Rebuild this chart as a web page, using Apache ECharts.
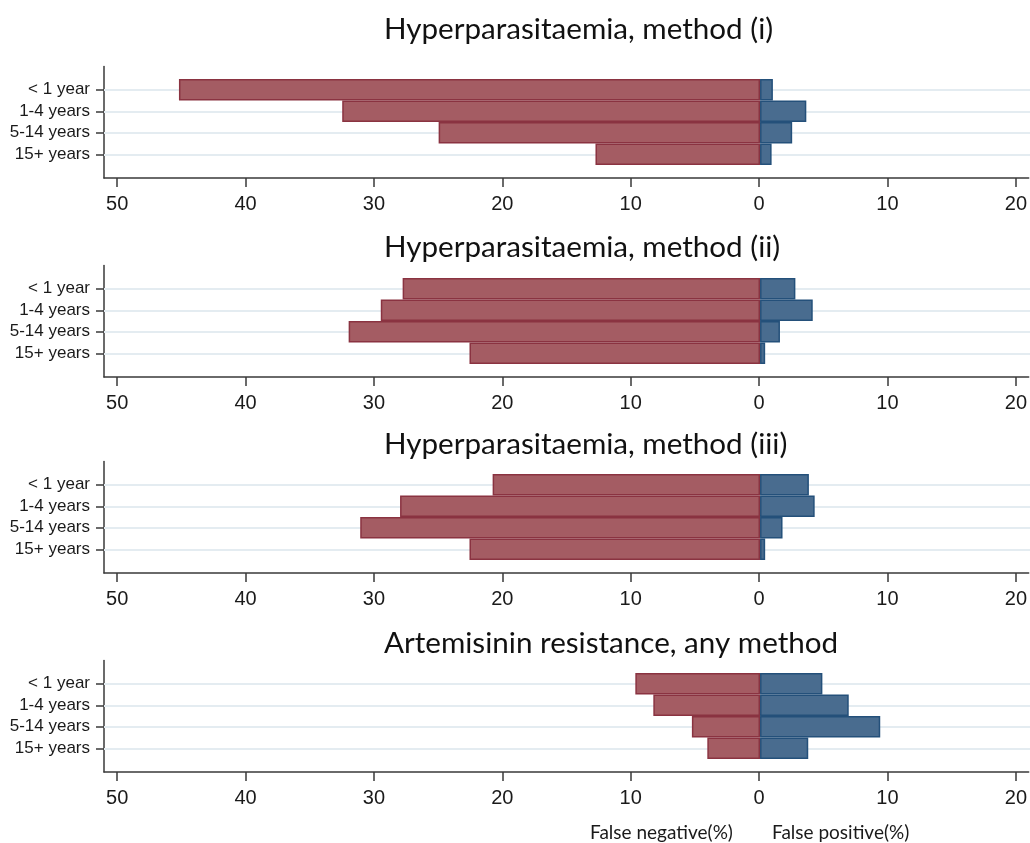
<!DOCTYPE html>
<html>
<head>
<meta charset="utf-8">
<script src="https://cdn.jsdelivr.net/npm/echarts@6/dist/echarts.min.js"></script>
<style>
html,body{margin:0;padding:0;background:#fff;}
#chart{width:1030px;height:843px;}
</style>
</head>
<body>
<div id="chart"></div>
<script>
// ---- data ----
const categories = ['< 1 year', '1-4 years', '5-14 years', '15+ years'];
const panelTitles = [
  'Hyperparasitaemia, method (i)',
  'Hyperparasitaemia, method (ii)',
  'Hyperparasitaemia, method (iii)',
  'Artemisinin resistance, any method'
];
const falseNeg1 = [45.2, 32.5, 25.0, 12.8];
const falsePos1 = [1.0, 3.6, 2.5, 0.9];
const falseNeg2 = [27.8, 29.5, 32.0, 22.6];
const falsePos2 = [2.75, 4.1, 1.55, 0.4];
const falseNeg3 = [20.8, 28.0, 31.1, 22.6];
const falsePos3 = [3.8, 4.25, 1.75, 0.4];
const falseNeg4 = [9.7, 8.3, 5.3, 4.1];
const falsePos4 = [4.85, 6.9, 9.35, 3.75];
const xTickValues = [-50, -40, -30, -20, -10, 0, 10, 20];
const bottomLabels = ['False negative(%)', 'False positive(%)'];

// ---- layout / style ----
const negSets = [falseNeg1, falseNeg2, falseNeg3, falseNeg4];
const posSets = [falsePos1, falsePos2, falsePos3, falsePos4];
const axisYs = [178, 377, 573, 772];
const titleTops = [14, 232, 429, 628];
const XMIN = -51.03, XMAX = 21.0;
const GRID_LEFT = 104;
const AXIS_COLOR = '#3a3a3a';
const TEXT_COLOR = '#1a1a1a';
const RED = '#a45c63', RED_BORDER = '#8a3341';
const BLUE = '#496c8f', BLUE_BORDER = '#24507a';
const GRIDLINE = '#e4ecf1';

const grid = [], xAxis = [], yAxis = [], series = [], title = [];

panelTitles.forEach((t, i) => {
  const ay = axisYs[i];
  const outer = 2 * i, inner = 2 * i + 1;
  grid.push({ left: GRID_LEFT, right: 0, top: ay - 111.5, height: 111.5 });
  grid.push({ left: GRID_LEFT, right: 0, top: ay - 99, height: 86 });

  xAxis.push({
    type: 'value', gridIndex: outer, min: XMIN, max: XMAX,
    axisLine: { show: true, onZero: false, lineStyle: { color: AXIS_COLOR, width: 1.5 } },
    axisTick: { show: true, customValues: xTickValues, length: 9, lineStyle: { color: AXIS_COLOR, width: 1.5 } },
    axisLabel: {
      customValues: xTickValues, margin: 16, fontSize: 20, color: TEXT_COLOR,
      fontFamily: 'Liberation Sans, Arial, sans-serif',
      formatter: v => String(Math.abs(Math.round(v)))
    },
    splitLine: { show: false }
  });
  xAxis.push({ type: 'value', gridIndex: inner, min: XMIN, max: XMAX, show: false });

  yAxis.push({
    type: 'value', gridIndex: outer, min: 0, max: 1,
    axisLine: { show: true, onZero: false, lineStyle: { color: AXIS_COLOR, width: 1.5 } },
    axisTick: { show: false }, axisLabel: { show: false }, splitLine: { show: false }
  });
  yAxis.push({
    type: 'category', gridIndex: inner, data: categories, inverse: true,
    axisLine: { show: false, onZero: false },
    axisTick: { show: true, interval: 0, alignWithLabel: true, length: 8, lineStyle: { color: AXIS_COLOR, width: 1.5 } },
    axisLabel: { interval: 0, margin: 14, fontSize: 17, color: TEXT_COLOR, fontFamily: 'Liberation Sans, Arial, sans-serif' },
    splitLine: { show: false }
  });

  series.push({
    type: 'bar', name: 'False negative', xAxisIndex: inner, yAxisIndex: inner,
    data: negSets[i].map(v => -v),
    barGap: '-100%', barCategoryGap: '0%',
    itemStyle: { color: RED, borderColor: RED_BORDER, borderWidth: 1.5 },
    z: 3,
    markLine: {
      silent: true, symbol: ['none', 'none'], z: 1,
      label: { show: false },
      lineStyle: { color: GRIDLINE, width: 2, type: 'solid' },
      data: categories.map((c, k) => ({ yAxis: k }))
    }
  });
  series.push({
    type: 'bar', name: 'False positive', xAxisIndex: inner, yAxisIndex: inner,
    data: posSets[i],
    barGap: '-100%', barCategoryGap: '0%',
    itemStyle: { color: BLUE, borderColor: BLUE_BORDER, borderWidth: 1.5 },
    z: 3
  });

  title.push({
    text: t, left: 384, top: titleTops[i], padding: 0,
    textStyle: { fontFamily: 'Lato, Open Sans, sans-serif', fontSize: 29.6, fontWeight: 'normal', color: '#111' }
  });
});

const chart = echarts.init(document.getElementById('chart'), null, { renderer: 'canvas' });
chart.setOption({
  animation: false,
  backgroundColor: '#ffffff',
  title, grid, xAxis, yAxis, series,
  graphic: [
    { type: 'text', x: 590, y: 833, style: { text: bottomLabels[0], font: '19px Lato, Open Sans, sans-serif', fill: TEXT_COLOR, verticalAlign: 'middle' } },
    { type: 'text', x: 772, y: 833, style: { text: bottomLabels[1], font: '19px Lato, Open Sans, sans-serif', fill: TEXT_COLOR, verticalAlign: 'middle' } }
  ]
});
</script>
</body>
</html>
